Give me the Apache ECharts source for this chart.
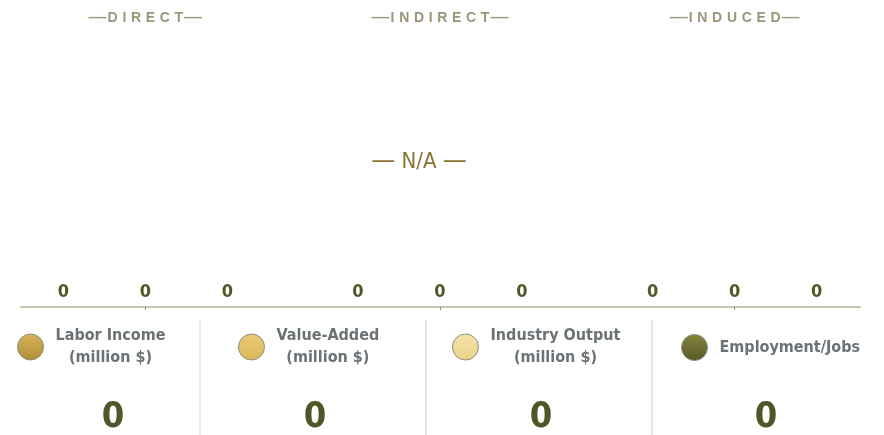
<!DOCTYPE html>
<html>
<head>
<meta charset="utf-8">
<script src="https://cdn.jsdelivr.net/npm/echarts@6/dist/echarts.min.js"></script>
<style>
  html, body { margin: 0; padding: 0; background: #fff; }
  #chart { width: 884px; height: 435px; }
</style>
</head>
<body>
<div id="chart"></div>
<script>
// data
const groups = ['DIRECT', 'INDIRECT', 'INDUCED']
const laborIncome = [0, 0, 0]
const valueAdded = [0, 0, 0]
const industryOutput = [0, 0, 0]
const employment = [0, 0, 0]
const seriesNames = ['Labor Income', 'Value-Added', 'Industry Output', 'Employment/Jobs']
const seriesUnits = ['(million $)', '(million $)', '(million $)', '']
const noDataText = 'N/A'

const FONT = "'DejaVu Sans Condensed', 'Roboto', sans-serif"
const OLIVE = '#4f5726'
const GREY = '#6b7276'

function grad(top, bottom) {
  return new echarts.graphic.LinearGradient(0, 0, 0, 1, [
    { offset: 0, color: top },
    { offset: 1, color: bottom }
  ])
}
const colors = [
  grad('#d8b55a', '#b08c38'),
  grad('#e8cc74', '#d9b85a'),
  grad('#f3e3aa', '#ecd388'),
  grad('#85853c', '#55592a')
]

const sum = arr => arr.reduce((a, b) => a + b, 0)
const totals = [laborIncome, valueAdded, industryOutput, employment].map(sum)

let chart = echarts.init(document.getElementById('chart'))

const barLabel = {
  show: true,
  position: 'top',
  distance: 6,
  color: OLIVE,
  fontFamily: FONT,
  fontWeight: 'bold',
  fontSize: 18
}

// 图例：每列一个
const legendLeft = [17, 238, 452, 681]
const legends = seriesNames.map((name, i) => ({
  data: [name],
  left: legendLeft[i],
  top: seriesUnits[i] ? 328 : 334,
  padding: 0,
  orient: 'horizontal',
  itemWidth: 26,
  itemHeight: 26,
  itemGap: 0,
  icon: 'circle',
  selectedMode: false,
  itemStyle: { borderColor: '#8e8c80', borderWidth: 1 },
  formatter: n => seriesUnits[i] ? '{a|' + n + '}\n{a|' + seriesUnits[i] + '}' : '{a|' + n + '}',
  textStyle: {
    color: GREY,
    fontFamily: FONT,
    fontWeight: 'bold',
    fontSize: 16,
    padding: [0, 0, 0, 7],
    rich: {
      a: {
        color: GREY,
        fontFamily: FONT,
        fontWeight: 'bold',
        fontSize: 16,
        lineHeight: 22,
        align: 'center'
      }
    }
  }
}))

const totalLeft = [108, 310, 536, 761]
const titles = totals.map((t, i) => ({
  text: String(t),
  left: totalLeft[i],
  top: 395,
  textAlign: 'center',
  textStyle: { color: OLIVE, fontFamily: FONT, fontWeight: 'bold', fontSize: 36 }
}))
titles.push({
  text: '{d|—} ' + noDataText + ' {d|—}',
  left: 414,
  top: 145,
  textAlign: 'center',
  textStyle: {
    color: '#8c7331',
    fontFamily: FONT,
    fontSize: 22,
    fontWeight: 'normal',
    rich: { d: { color: '#8c7331', fontSize: 24, fontFamily: 'DejaVu Sans' } }
  }
})

chart.setOption({
  animation: false,
  title: titles,
  legend: legends,
  grid: [
    { left: -2, right: 2, top: 38, bottom: 128, outerBoundsMode: 'none' },
    { left: 21, right: 24, top: 38, bottom: 128, outerBoundsMode: 'none' }
  ],
  xAxis: [
    {
      type: 'category',
      gridIndex: 0,
      data: groups,
      axisLine: { show: false },
      axisTick: { show: true, alignWithLabel: true, length: 3, lineStyle: { color: '#8f8b78' } },
      axisLabel: { show: false }
    },
    {
      type: 'category',
      gridIndex: 0,
      position: 'top',
      data: groups,
      axisLine: { show: false },
      axisTick: { show: false },
      axisLabel: {
        margin: 10,
        formatter: v => '{d|—}' + v.split('').join('\u2004') + '{d|—}',
        color: '#9b9679',
        fontFamily: "'Liberation Sans', sans-serif",
        fontWeight: 'bold',
        fontSize: 14,
        rich: {
          d: { color: '#9b9679', fontSize: 20, fontWeight: 'normal', fontFamily: 'DejaVu Sans' }
        }
      }
    },
    {
      type: 'value',
      gridIndex: 1,
      min: 0,
      max: 1,
      axisLine: { show: true, lineStyle: { color: '#c9c5b1', width: 2 } },
      axisTick: { show: false },
      axisLabel: { show: false },
      splitLine: { show: false }
    }
  ],
  yAxis: [
    { type: 'value', gridIndex: 0, min: 0, max: 1, show: false },
    { type: 'value', gridIndex: 0, min: 0, max: 1, show: false },
    { type: 'value', gridIndex: 1, min: 0, max: 1, show: false }
  ],
  graphic: [200, 426, 652].map(x => ({
    type: 'line',
    shape: { x1: x, y1: 320, x2: x, y2: 435 },
    style: { stroke: '#cfcfcf', lineWidth: 1 }
  })),
  series: [
    {
      name: seriesNames[0], type: 'bar', data: laborIncome,
      barWidth: 60, barGap: '36.67%',
      itemStyle: { color: colors[0] }, label: barLabel
    },
    {
      name: seriesNames[1], type: 'bar', data: valueAdded,
      barWidth: 60, barGap: '36.67%',
      itemStyle: { color: colors[1] }, label: barLabel
    },
    {
      name: seriesNames[2], type: 'bar', data: industryOutput,
      barWidth: 60, barGap: '36.67%',
      itemStyle: { color: colors[2] }, label: barLabel
    },
    {
      name: seriesNames[3], type: 'line', data: employment, yAxisIndex: 1,
      showSymbol: false, symbol: 'none',
      lineStyle: { opacity: 0 },
      itemStyle: { color: colors[3] }
    }
  ]
})
</script>
</body>
</html>
